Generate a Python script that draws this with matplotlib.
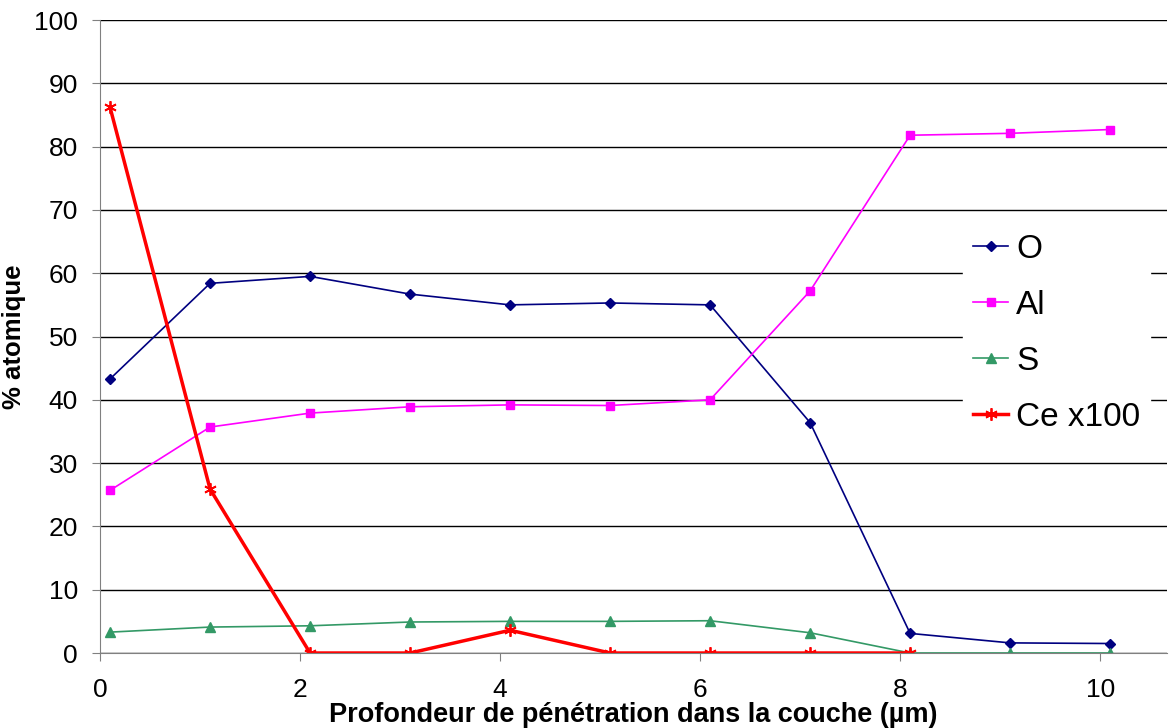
import matplotlib.pyplot as plt

plt.rcParams['font.family'] = ['Liberation Sans', 'DejaVu Sans']

# Profondeur (µm)
profondeur = [0.1, 1.1, 2.1, 3.1, 4.1, 5.1, 6.1, 7.1, 8.1, 9.1, 10.1]
o = [43.3, 58.4, 59.5, 56.7, 55.0, 55.3, 55.0, 36.4, 3.1, 1.6, 1.5]
al = [25.7, 35.7, 37.9, 38.9, 39.2, 39.1, 40.0, 57.2, 81.8, 82.1, 82.7]
s = [3.3, 4.1, 4.3, 4.9, 5.0, 5.0, 5.1, 3.2, 0.0, 0.0, 0.0]
profondeur_ce = profondeur[:9]
ce = [86.2, 25.9, 0.0, 0.0, 3.6, 0.0, 0.0, 0.0, 0.0]

fig = plt.figure(figsize=(11.73, 7.28), dpi=100)
ax = fig.add_axes([0.0853, 0.103, 0.9097, 0.8695])

ax.plot(profondeur, o, color='#000080', marker='D', markersize=5.5, lw=1.2, label='O')
ax.plot(profondeur, al, color='#FF00FF', marker='s', markersize=6, lw=1.2, label='Al')
ax.plot(profondeur, s, color='#339966', marker='^', markersize=7, lw=1.2, label='S')
ax.plot(profondeur_ce, ce, color='#FF0000', marker=(6, 2, 0), markersize=9, lw=2.5,
        markeredgewidth=1.3, label='Ce x100')

ax.set_xlim(0, 10.67)
ax.set_ylim(0, 100)
ax.set_xticks([0, 2, 4, 6, 8, 10])
ax.set_yticks(range(0, 101, 10))
ax.yaxis.grid(True, color='black', lw=1)
ax.set_axisbelow(True)
ax.spines['top'].set_visible(False)
ax.spines['right'].set_visible(False)
ax.spines['left'].set_color('#808080')
ax.spines['bottom'].set_color('#808080')
ax.tick_params(direction='out', length=6, color='#808080', labelsize=19, pad=10)
ax.tick_params(axis='x', pad=12)

ax.set_xlabel('Profondeur de pénétration dans la couche (µm)', fontsize=19.5,
              fontweight='bold', labelpad=0)
ax.set_ylabel('% atomique', fontsize=18.5, fontweight='bold', labelpad=6)

leg = ax.legend(loc='center right', bbox_to_anchor=(1.0, 0.505), fontsize=24,
                frameon=True, fancybox=False, edgecolor='white', framealpha=1,
                handlelength=1.05, handletextpad=0.25, labelspacing=0.75,
                borderpad=0.3)

fig.savefig('out.png', dpi=100)
